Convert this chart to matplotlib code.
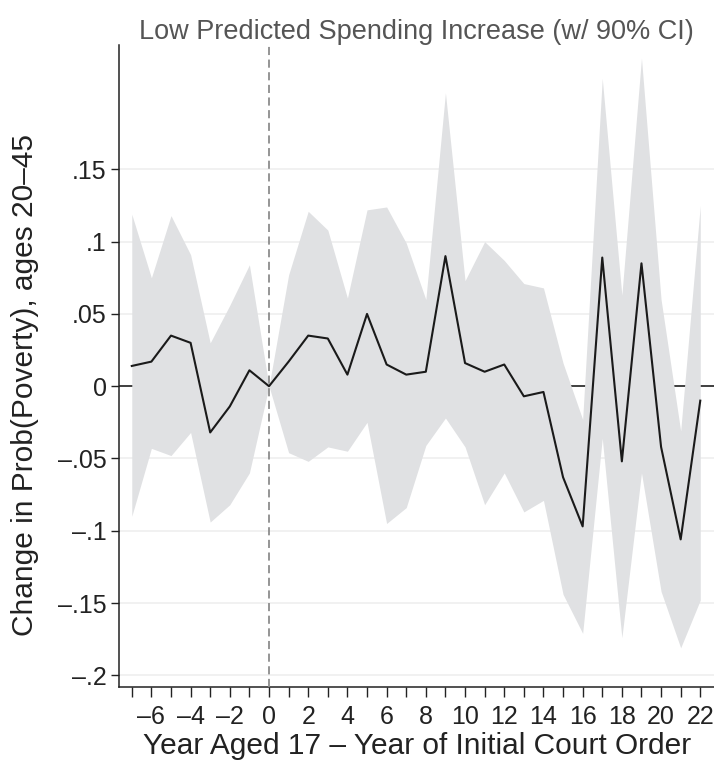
import numpy as np
import matplotlib
matplotlib.use('Agg')
import matplotlib.pyplot as plt

plt.rcParams['font.family'] = ['Liberation Sans', 'DejaVu Sans']

# event time: year aged 17 - year of initial court order
years = list(range(-7, 23))

# point estimates (black line)
coef = [0.014, 0.017, 0.035, 0.030, -0.032, -0.014, 0.011, 0.0,
        0.017, 0.035, 0.033, 0.008, 0.050, 0.015, 0.008, 0.010,
        0.090, 0.016, 0.010, 0.015, -0.007, -0.004, -0.063, -0.097,
        0.089, -0.052, 0.085, -0.042, -0.106, -0.010]

# 90% confidence band
ci_hi = [0.119, 0.075, 0.118, 0.091, 0.030, 0.056, 0.084, 0.0,
         0.077, 0.121, 0.108, 0.061, 0.122, 0.124, 0.099, 0.060,
         0.203, 0.073, 0.100, 0.087, 0.071, 0.068, 0.016, -0.023,
         0.213, 0.063, 0.227, 0.060, -0.031, 0.125]
ci_lo = [-0.090, -0.043, -0.048, -0.032, -0.094, -0.082, -0.060, 0.0,
         -0.046, -0.052, -0.042, -0.045, -0.025, -0.095, -0.084, -0.041,
         -0.022, -0.042, -0.082, -0.060, -0.087, -0.079, -0.144, -0.171,
         -0.036, -0.174, -0.060, -0.142, -0.181, -0.148]

yticks = [-0.2, -0.15, -0.1, -0.05, 0, 0.05, 0.1, 0.15]
ytick_labels = ['–.2', '–.15', '–.1', '–.05', '0', '.05', '.1', '.15']

fig = plt.figure(figsize=(7.14, 7.64), dpi=100)
ax = fig.add_axes([0.167, 0.101, 0.833, 0.840])

for v in yticks:
    ax.axhline(v, color='#efefef', lw=1.2, zorder=0)
ax.axhline(0, color='#222222', lw=1.2, zorder=1)

ax.fill_between(years, ci_lo, ci_hi, color='#e0e1e3', lw=0, zorder=2)
ax.plot(years, coef, color='#1a1a1a', lw=1.5, zorder=4)
ax.axvline(0, color='#8c8c8c', lw=1.3, ls=(0, (4.5, 2.5)), zorder=3)

ax.set_xlim(-7.64, 22.7)
ax.set_ylim(-0.208, 0.236)

ax.set_xticks(years)
ax.set_xticklabels([('–' + str(-t) if t < 0 else str(t)) if t % 2 == 0 else ''
                    for t in years])
ax.set_yticks(yticks)
ax.set_yticklabels(ytick_labels)
ax.tick_params(axis='both', direction='out', width=1, color='#222222',
               labelsize=18, labelcolor='#222222')
ax.tick_params(axis='x', length=7, pad=6)
ax.tick_params(axis='y', length=6, pad=3)

for side in ['top', 'right']:
    ax.spines[side].set_visible(False)
for side in ['left', 'bottom']:
    ax.spines[side].set_color('#222222')
    ax.spines[side].set_linewidth(1.1)

ax.set_title('Low Predicted Spending Increase (w/ 90% CI)', fontsize=19.5,
             color='#555555', pad=2.5)
ax.set_xlabel('Year Aged 17 – Year of Initial Court Order', fontsize=21.5,
              color='#222222', labelpad=2)
ax.set_ylabel('Change in Prob(Poverty), ages 20–45', fontsize=21.5,
              color='#222222', va='center')
ax.yaxis.set_label_coords(-0.158, 0.47)

fig.savefig('out.png', dpi=100)
